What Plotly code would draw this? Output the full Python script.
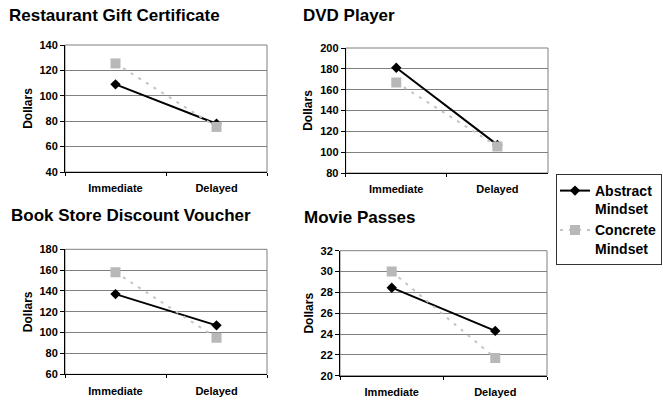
import plotly.graph_objects as go

categories = ["Immediate", "Delayed"]

restaurant_abstract = [109, 78]
restaurant_concrete = [125.5, 75.5]
dvd_abstract = [181, 107]
dvd_concrete = [167, 105.5]
book_abstract = [137, 107]
book_concrete = [158, 95]
movie_abstract = [28.45, 24.3]
movie_concrete = [30, 21.7]

titles = ["Restaurant Gift Certificate", "DVD Player", "Book Store Discount Voucher", "Movie Passes"]
y_ranges = [[40, 140], [80, 200], [60, 180], [20, 32]]
y_dticks = [20, 20, 20, 2]

panels = [
    (restaurant_abstract, restaurant_concrete),
    (dvd_abstract, dvd_concrete),
    (book_abstract, book_concrete),
    (movie_abstract, movie_concrete),
]

W, H = 663, 407
# plot-area boxes in pixels: left, right, top, bottom
boxes = [
    (65, 267, 45, 172),
    (345.7, 548, 48, 173),
    (65, 267, 249.3, 374.3),
    (340, 547, 250.7, 375.7),
]
title_pos = [(7, 15), (301, 15), (9, 216), (302, 217)]

FONT = "Liberation Sans, Arial, sans-serif"
ABS_COLOR = "#000000"
CON_COLOR = "#b8b8b8"

fig = go.Figure()
layout = dict(
    width=W, height=H,
    template="none",
    margin=dict(l=0, r=0, t=0, b=0, autoexpand=False),
    paper_bgcolor="white", plot_bgcolor="white",
    font=dict(family=FONT, color="black", size=11),
    showlegend=True,
    legend=dict(
        x=556 / W, y=1 - 174 / H, xanchor="left", yanchor="top",
        bordercolor="#333333", borderwidth=1, bgcolor="white",
        font=dict(size=14, family=FONT, color="black", weight="bold"),
        itemwidth=30, valign="top", tracegroupgap=0, indentation=-2,
    ),
)
shapes = []
annotations = []

for i, ((abs_v, con_v), title, yr, dt, box, tp) in enumerate(
        zip(panels, titles, y_ranges, y_dticks, boxes, title_pos)):
    n = i + 1
    xa = "x" if n == 1 else f"x{n}"
    ya = "y" if n == 1 else f"y{n}"
    fig.add_trace(go.Scatter(
        x=categories, y=abs_v, xaxis=xa, yaxis=ya,
        name="Abstract<br>Mindset", legendrank=1,
        mode="lines+markers", showlegend=(n == 1),
        line=dict(color=ABS_COLOR, width=2),
        marker=dict(symbol="diamond", size=8, color=ABS_COLOR),
    ))
    fig.add_trace(go.Scatter(
        x=categories, y=con_v, xaxis=xa, yaxis=ya,
        name="Concrete<br>Mindset", legendrank=2,
        mode="lines+markers", showlegend=(n == 1),
        line=dict(color="#c4c4c4", width=2, dash="3px,6px"),
        marker=dict(symbol="square", size=10, color=CON_COLOR),
    ))
    l, r, t, b = box
    layout[f"xaxis{'' if n == 1 else n}"] = dict(
        domain=[l / W, r / W], anchor=ya, type="category",
        range=[-0.5, 1.5], tickson="boundaries", automargin=False,
        showline=True, linecolor="black", linewidth=1,
        ticks="outside", ticklen=3, tickcolor="black",
        showgrid=False, zeroline=False, fixedrange=True,
        tickfont=dict(size=11, family=FONT, weight="bold"),
        ticklabelstandoff=6,
    )
    layout[f"yaxis{'' if n == 1 else n}"] = dict(
        domain=[1 - b / H, 1 - t / H], anchor=xa, automargin=False,
        range=yr, dtick=dt, tick0=0,
        showline=True, linecolor="black", linewidth=1,
        ticks="outside", ticklen=4, tickcolor="black",
        showgrid=True, gridcolor="#808080", gridwidth=1,
        zeroline=False, fixedrange=True,
        tickfont=dict(size=11, family=FONT, weight="bold"),
        title=dict(text="Dollars", standoff=4,
                   font=dict(size=12, family=FONT, weight="bold")),
    )
    shapes.append(dict(
        type="rect", xref=f"{xa} domain", yref=f"{ya} domain",
        x0=0, x1=1, y0=0, y1=1, line=dict(color="#808080", width=1),
        layer="below",
    ))
    annotations.append(dict(
        text=title, xref="paper", yref="paper",
        x=tp[0] / W, y=1 - tp[1] / H, xanchor="left", yanchor="middle",
        showarrow=False,
        font=dict(size=17, family=FONT, color="black", weight="bold"),
    ))

layout["shapes"] = shapes
layout["annotations"] = annotations
fig.update_layout(**layout)
fig.write_html(
    "out.html",
    config={"displayModeBar": False},
    post_script="document.body.style.margin='0';document.body.style.padding='0';",
)
